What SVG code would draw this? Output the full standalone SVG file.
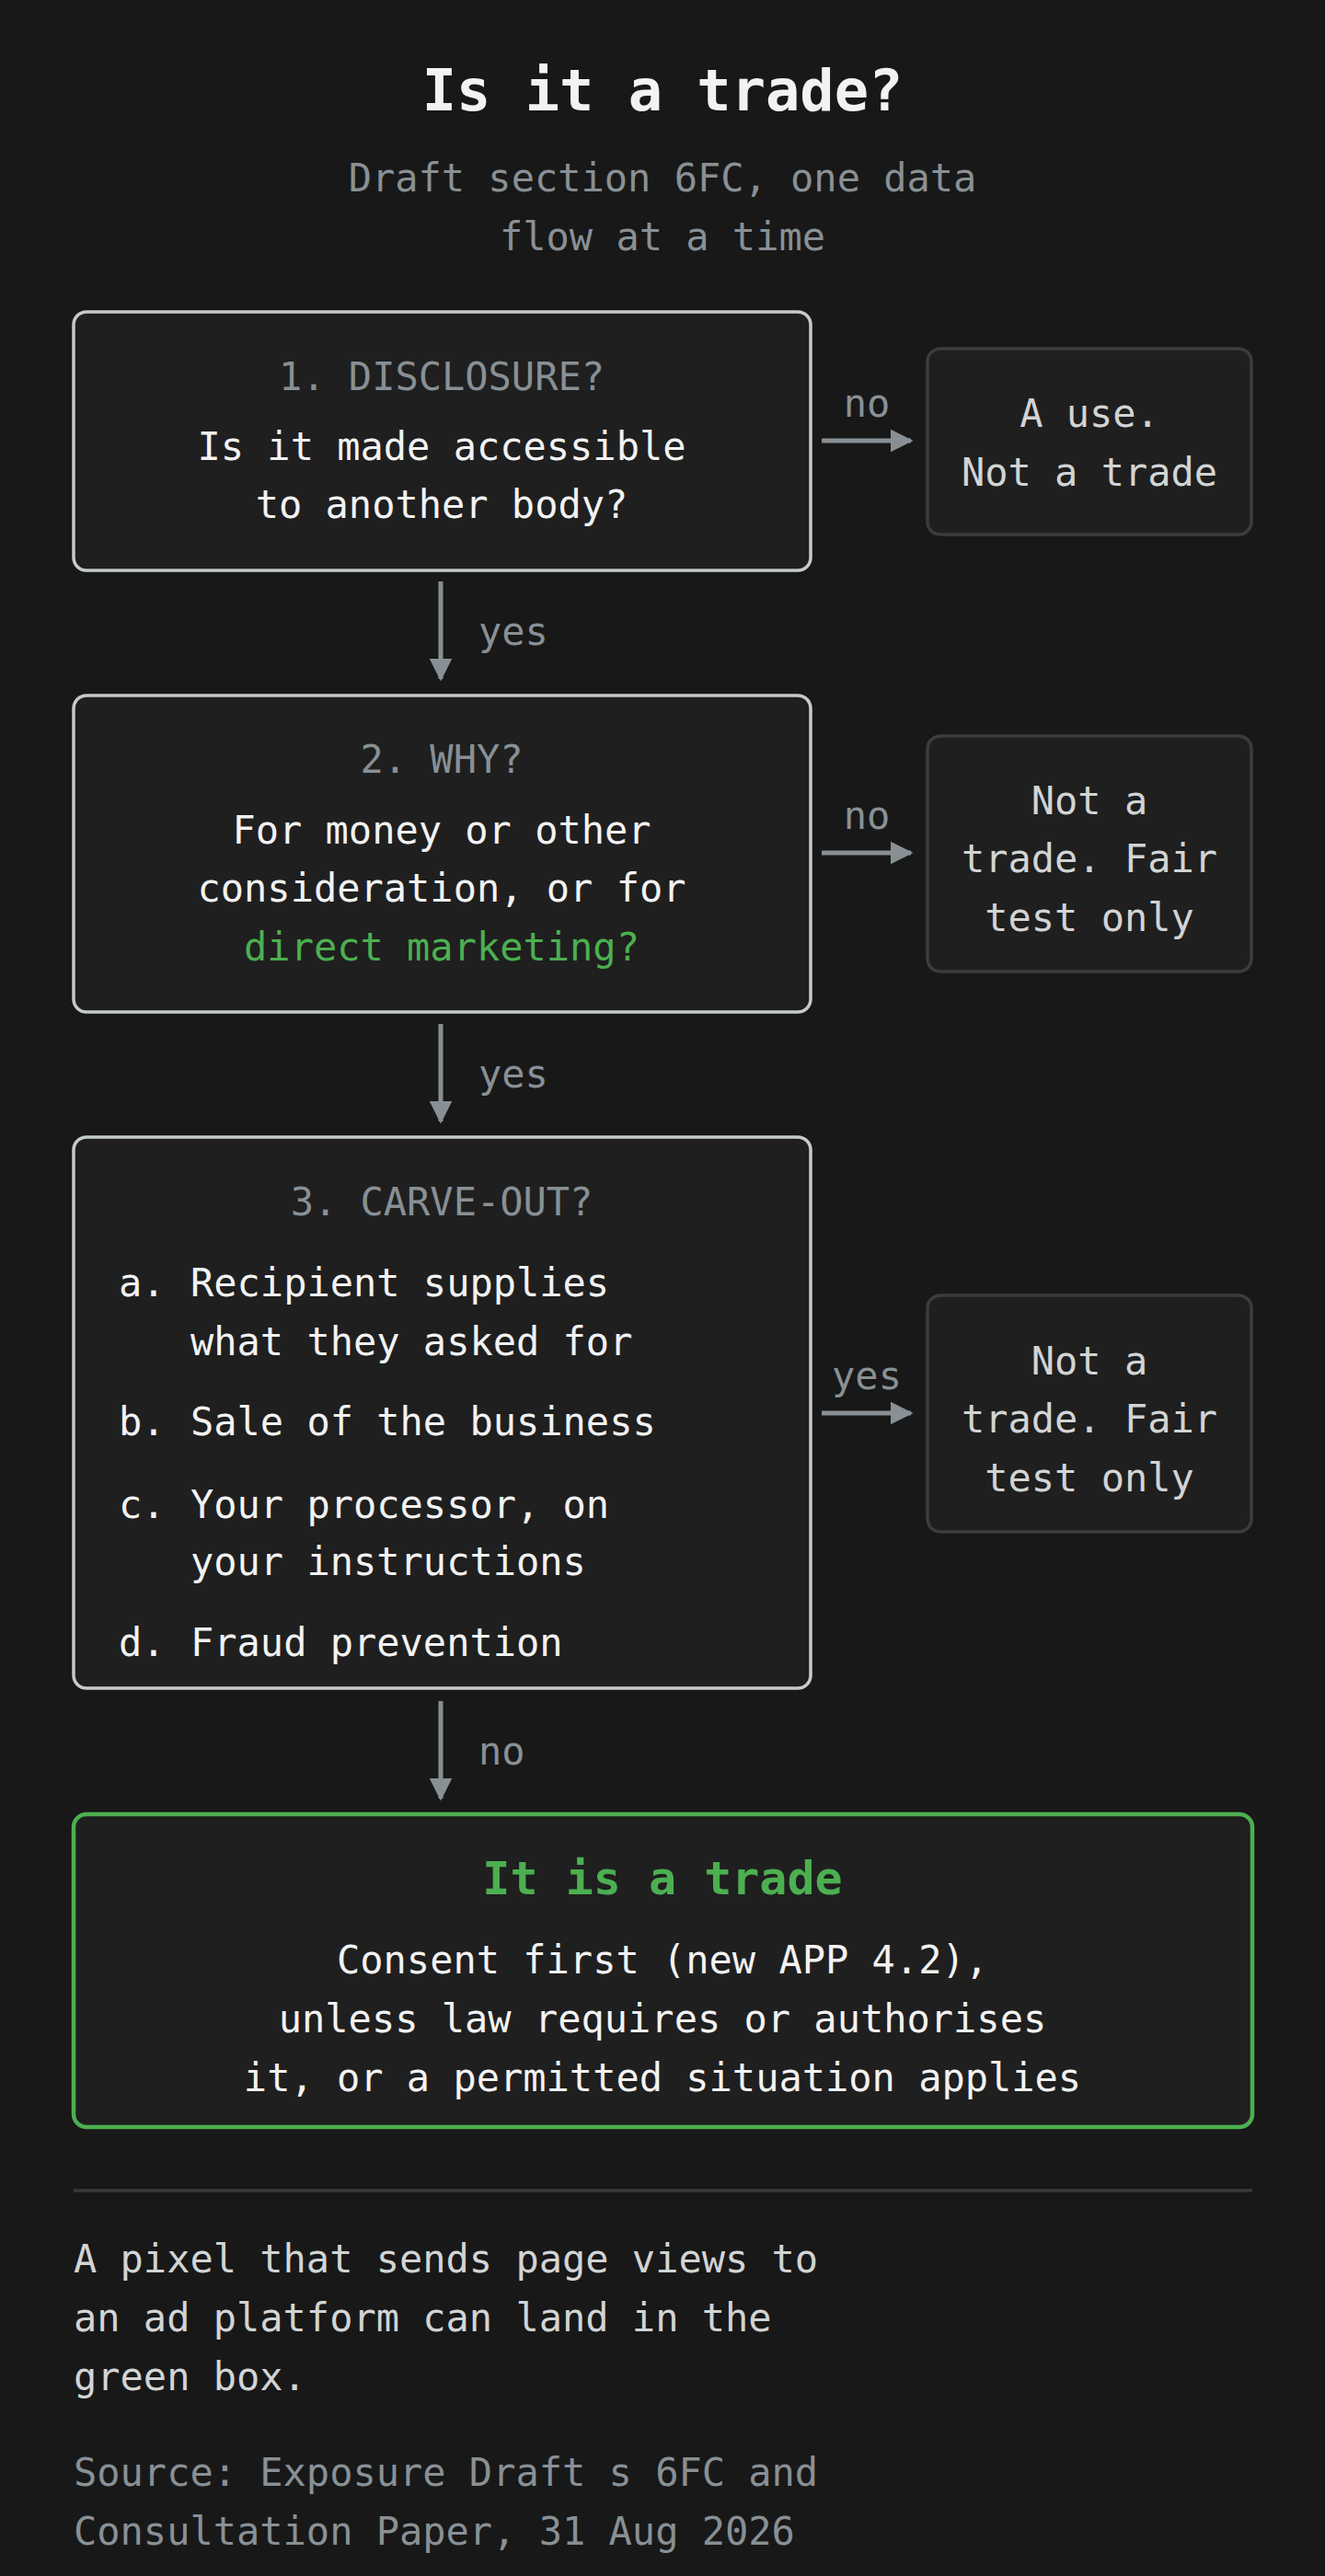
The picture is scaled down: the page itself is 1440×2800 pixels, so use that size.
<svg xmlns="http://www.w3.org/2000/svg" width="1440" height="2800" viewBox="0 0 1440 2800">
<style>
text{font-family:"DejaVu Sans Mono","Liberation Mono",monospace;font-size:42px;dominant-baseline:central}
.c{text-anchor:middle}
.w{fill:#f2f2f2}.g{fill:#889095}.s{fill:#d2d4d4}.gr{fill:#4caf50}
.main{fill:#1f1f1f;stroke:#c5cbc7;stroke-width:3.5}
.side{fill:#1f1f1f;stroke:#3c3c3c;stroke-width:3.5}
.ar{stroke:#889095;stroke-width:5;fill:none;marker-end:url(#ah)}
</style>
<defs><marker id="ah" viewBox="0 0 10 10" refX="9" refY="5" markerWidth="5" markerHeight="5" orient="auto" markerUnits="strokeWidth"><path d="M0,0L10,5L0,10z" fill="#889095"/></marker></defs>
<rect width="1440" height="2800" fill="#181818"/>
<g id="title"><text class="c w" x="720" y="98" style="font-size:62px;font-weight:bold">Is it a trade?</text>
<text class="c g" x="720" y="193">Draft section 6FC, one data</text><text class="c g" x="720" y="257">flow at a time</text></g>
<g id="q1"><rect class="main" x="80" y="339" width="801" height="281" rx="14"/>
<text class="c g" x="480" y="409">1. DISCLOSURE?</text><text class="c w" x="480" y="485">Is it made accessible</text><text class="c w" x="480" y="548">to another body?</text></g>
<g id="r1"><rect class="side" x="1008" y="379" width="352" height="202" rx="14"/>
<text class="c s" x="1184" y="449">A use.</text><text class="c s" x="1184" y="513">Not a trade</text></g>
<g id="q2"><rect class="main" x="80" y="756" width="801" height="344" rx="14"/>
<text class="c g" x="480" y="825">2. WHY?</text><text class="c w" x="480" y="902">For money or other</text><text class="c w" x="480" y="965">consideration, or for</text><text class="c gr" x="480" y="1029">direct marketing?</text></g>
<g id="r2"><rect class="side" x="1008" y="800" width="352" height="256" rx="14"/>
<text class="c s" x="1184" y="870">Not a</text><text class="c s" x="1184" y="933">trade. Fair</text><text class="c s" x="1184" y="997">test only</text></g>
<g id="q3"><rect class="main" x="80" y="1236" width="801" height="599" rx="14"/>
<text class="c g" x="480" y="1306">3. CARVE-OUT?</text>
<text class="w" x="129" y="1394">a.</text><text class="w" x="207" y="1394">Recipient supplies</text><text class="w" x="207" y="1458">what they asked for</text>
<text class="w" x="129" y="1545">b.</text><text class="w" x="207" y="1545">Sale of the business</text>
<text class="w" x="129" y="1635">c.</text><text class="w" x="207" y="1635">Your processor, on</text><text class="w" x="207" y="1697">your instructions</text>
<text class="w" x="129" y="1785">d.</text><text class="w" x="207" y="1785">Fraud prevention</text></g>
<g id="r3"><rect class="side" x="1008" y="1408" width="352" height="257" rx="14"/>
<text class="c s" x="1184" y="1479">Not a</text><text class="c s" x="1184" y="1542">trade. Fair</text><text class="c s" x="1184" y="1606">test only</text></g>
<g id="trade"><rect x="80" y="1972" width="1281" height="340" rx="14" fill="#1f1f1f" stroke="#4caf50" stroke-width="4.5"/>
<text class="c gr" x="720" y="2042" style="font-size:50px;font-weight:bold">It is a trade</text>
<text class="c w" x="720" y="2130">Consent first (new APP 4.2),</text><text class="c w" x="720" y="2194">unless law requires or authorises</text><text class="c w" x="720" y="2258">it, or a permitted situation applies</text></g>
<g id="connectors">
<path class="ar" d="M893,479H990"/><text class="c g" x="942" y="438">no</text>
<path class="ar" d="M893,927H990"/><text class="c g" x="942" y="886">no</text>
<path class="ar" d="M893,1536H990"/><text class="c g" x="942" y="1495">yes</text>
<path class="ar" d="M479,632V738"/><text class="g" x="520" y="686">yes</text>
<path class="ar" d="M479,1113V1219"/><text class="g" x="520" y="1167">yes</text>
<path class="ar" d="M479,1849V1955"/><text class="g" x="520" y="1903">no</text>
</g>
<g id="footer"><path d="M80,2381H1361" stroke="#3a3a3a" stroke-width="3.5"/>
<text class="s" x="80" y="2455">A pixel that sends page views to</text><text class="s" x="80" y="2519">an ad platform can land in the</text><text class="s" x="80" y="2583">green box.</text>
<text class="g" x="80" y="2687">Source: Exposure Draft s 6FC and</text><text class="g" x="80" y="2751">Consultation Paper, 31 Aug 2026</text></g>
</svg>
